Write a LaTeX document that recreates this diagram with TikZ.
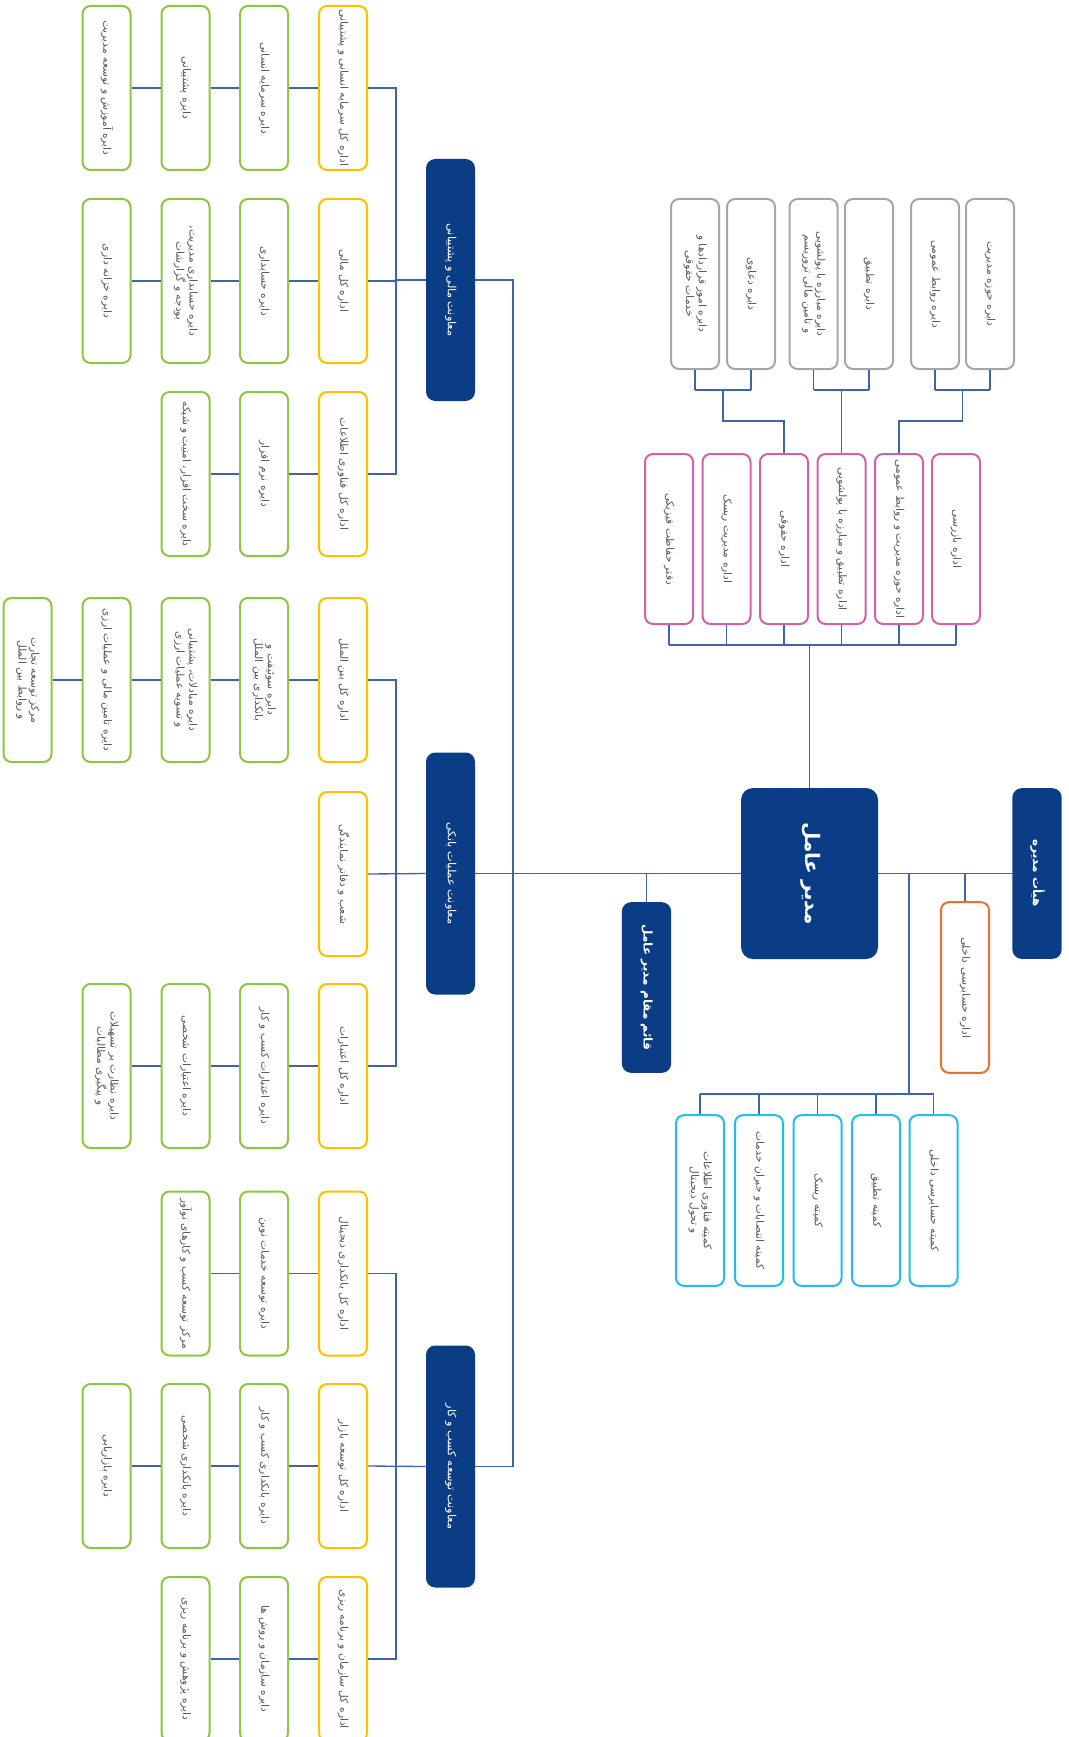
\documentclass[tikz,border=0pt]{standalone}
\usepackage{fontspec}
\usepackage{graphicx}
\newfontfamily\fa[Script=Arabic]{DejaVu Sans}
\TeXXeTstate=1
\newcommand{\rl}[1]{\beginR #1\endR}
\newcommand{\vt}[1]{\rotatebox{-90}{\renewcommand\arraystretch{0.95}\begin{tabular}{@{}c@{}}#1\end{tabular}}}
\definecolor{cyel}{HTML}{FFC000}
\definecolor{cgrn}{HTML}{8DC63F}
\definecolor{cpink}{HTML}{D063A8}
\definecolor{cgray}{HTML}{A6A6A6}
\definecolor{ccyan}{HTML}{22BDEE}
\definecolor{corg}{HTML}{ED6F2D}
\definecolor{cnavy}{HTML}{0B3D87}
\definecolor{ctxt}{HTML}{595959}
\definecolor{cline}{HTML}{3D65A8}
\tikzset{
  box/.style={draw, line width=1.5pt, rounded corners=6pt, fill=white, text=ctxt,
    font=\fa\fontsize{8}{10}\selectfont, inner sep=0pt, minimum width=36pt},
  ybox/.style={box, draw=cyel, minimum height=123pt},
  gbox/.style={box, draw=cgrn, minimum height=123pt},
  graybox/.style={box, draw=cgray, minimum height=127.5pt},
  pbox/.style={box, draw=cpink, minimum height=127.5pt},
  cbox/.style={box, draw=ccyan, minimum height=128pt},
  obox/.style={box, draw=corg, minimum height=128pt},
  vpbox/.style={fill=cnavy, draw=none, rounded corners=7pt, text=white, inner sep=0pt,
    font=\fa\fontsize{8.5}{10}\selectfont, minimum width=36.75pt, minimum height=181.5pt},
  nbox/.style={fill=cnavy, draw=none, rounded corners=7pt, text=white, inner sep=0pt,
    font=\fa\bfseries\fontsize{9}{11}\selectfont, minimum width=37pt, minimum height=128pt},
  ln/.style={draw=cline, line width=1pt},
}
\begin{document}
\begin{tikzpicture}[x=0.75pt,y=-0.75pt]
\useasboundingbox (0,0) rectangle (1068,1737);
\fill[white] (0,0) rectangle (1068,1737);

% ---------- centre ----------
\node[nbox, minimum width=102.75pt, minimum height=128.25pt, rounded corners=9pt,
  font=\fa\bfseries\fontsize{15}{17}\selectfont] (ceo) at (809.5,873.5) {\vt{\rl{مدیر عامل}}};
\node[nbox] (board) at (1037,873.5) {\vt{\rl{هیأت مدیره}}};
\node[nbox] (dep) at (646.5,987.5) {\vt{\rl{قائم مقام مدیر عامل}}};
\node[obox] (audit) at (965,987.5) {\vt{\rl{اداره حسابرسی داخلی}}};

% committees
\node[cbox] (c1) at (933.5,1200.5) {\vt{\rl{کمیته حسابرسی داخلی}}};
\node[cbox] (c2) at (876,1200.5) {\vt{\rl{کمیته تطبیق}}};
\node[cbox] (c3) at (817.5,1200.5) {\vt{\rl{کمیته ریسک}}};
\node[cbox] (c4) at (759,1200.5) {\vt{\rl{کمیته انتصابات و جبران خدمات}}};
\node[cbox] (c5) at (700,1200.5) {\vt{\rl{کمیته فناوری اطلاعات}\\\rl{و تحول دیجیتال}}};

% pink
\node[pbox] (p1) at (956,539) {\vt{\rl{اداره بازرسی}}};
\node[pbox] (p2) at (899,539) {\vt{\rl{اداره حوزه مدیریت و روابط عمومی}}};
\node[pbox] (p3) at (841.5,539) {\vt{\rl{اداره تطبیق و مبارزه با پولشویی}}};
\node[pbox] (p4) at (784,539) {\vt{\rl{اداره حقوقی}}};
\node[pbox] (p5) at (726.5,539) {\vt{\rl{اداره مدیریت ریسک}}};
\node[pbox] (p6) at (669,539) {\vt{\rl{دفتر حفاظت فیزیکی}}};

% gray
\node[graybox] (q1) at (990,284) {\vt{\rl{دایره حوزه مدیریت}}};
\node[graybox] (q2) at (935,284) {\vt{\rl{دایره روابط عمومی}}};
\node[graybox] (q3) at (869,284) {\vt{\rl{دایره تطبیق}}};
\node[graybox] (q4) at (813.5,284) {\vt{\rl{دایره مبارزه با پولشویی}\\\rl{و تامین مالی تروریسم}}};
\node[graybox] (q5) at (751,284) {\vt{\rl{دایره دعاوی}}};
\node[graybox] (q6) at (695,284) {\vt{\rl{دایره امور قراردادها و}\\\rl{خدمات حقوقی}}};

% ---------- vice presidents ----------
\node[vpbox] (vp1) at (450.5,280) {\vt{\rl{معاونت مالی و پشتیبانی}}};
\node[vpbox] (vp2) at (450.5,873.5) {\vt{\rl{معاونت عملیات بانکی}}};
\node[vpbox] (vp3) at (450.5,1466.5) {\vt{\rl{معاونت توسعه کسب و کار}}};

% row 1
\node[ybox] (a1) at (343,88) {\vt{\rl{اداره کل سرمایه انسانی و پشتیبانی}}};
\node[gbox] (a2) at (264,88) {\vt{\rl{دایره سرمایه انسانی}}};
\node[gbox] (a3) at (185.5,88) {\vt{\rl{دایره پشتیبانی}}};
\node[gbox] (a4) at (106.5,88) {\vt{\rl{دایره آموزش و توسعه مدیریت}}};
% row 2
\node[ybox] (b1) at (343,281) {\vt{\rl{اداره کل مالی}}};
\node[gbox] (b2) at (264,281) {\vt{\rl{دایره حسابداری}}};
\node[gbox] (b3) at (185.5,281) {\vt{\rl{دایره حسابداری مدیریت،}\\\rl{بودجه و گزارشات}}};
\node[gbox] (b4) at (106.5,281) {\vt{\rl{دایره خزانه داری}}};
% row 3
\node[ybox] (d1) at (343,474) {\vt{\rl{اداره کل فناوری اطلاعات}}};
\node[gbox] (d2) at (264,474) {\vt{\rl{دایره نرم افزار}}};
\node[gbox] (d3) at (185.5,474) {\vt{\rl{دایره سخت افزار، امنیت و شبکه}}};
% row 4
\node[ybox] (e1) at (343,680) {\vt{\rl{اداره کل بین الملل}}};
\node[gbox] (e2) at (264,680) {\vt{\rl{دایره سوئیفت و}\\\rl{بانکداری بین الملل}}};
\node[gbox] (e3) at (185.5,680) {\vt{\rl{دایره مبادلات، پشتیبانی}\\\rl{و تسویه عملیات ارزی}}};
\node[gbox] (e4) at (106.5,680) {\vt{\rl{دایره تامین مالی و عملیات ارزی}}};
\node[gbox] (e5) at (27.5,680) {\vt{\rl{مرکز توسعه تجارت}\\\rl{و روابط بین الملل}}};
% row 5
\node[ybox] (f1) at (343,874) {\vt{\rl{شعب و دفاتر نمایندگی}}};
% row 6
\node[ybox] (h1) at (343,1066) {\vt{\rl{اداره کل اعتبارات}}};
\node[gbox] (h2) at (264,1066) {\vt{\rl{دایره اعتبارات کسب و کار}}};
\node[gbox] (h3) at (185.5,1066) {\vt{\rl{دایره اعتبارات شخصی}}};
\node[gbox] (h4) at (106.5,1066) {\vt{\rl{دایره نظارت بر تسهیلات}\\\rl{و پیگیری مطالبات}}};
% row 7
\node[ybox] (k1) at (343,1273.5) {\vt{\rl{اداره کل بانکداری دیجیتال}}};
\node[gbox] (k2) at (264,1273.5) {\vt{\rl{دایره توسعه خدمات نوین}}};
\node[gbox] (k3) at (185.5,1273.5) {\vt{\rl{مرکز توسعه کسب و کارهای نوآور}}};
% row 8
\node[ybox] (m1) at (343,1466) {\vt{\rl{اداره کل توسعه بازار}}};
\node[gbox] (m2) at (264,1466) {\vt{\rl{دایره بانکداری کسب و کار}}};
\node[gbox] (m3) at (185.5,1466) {\vt{\rl{دایره بانکداری شخصی}}};
\node[gbox] (m4) at (106.5,1466) {\vt{\rl{دایره بازاریابی}}};
% row 9
\node[ybox] (n1) at (343,1659) {\vt{\rl{اداره کل سازمان و برنامه ریزی}}};
\node[gbox] (n2) at (264,1659) {\vt{\rl{دایره سازمان و روش ها}}};
\node[gbox] (n3) at (185.5,1659) {\vt{\rl{دایره پژوهش و برنامه ریزی}}};

% ---------- connectors ----------
\coordinate (k1x) at (396,280);
\coordinate (k2x) at (396,873.5);
\coordinate (k3x) at (396,1466.5);
\coordinate (trunk) at (513,873.5);

% rows
\draw[ln] (a4.east) -- (a3.west) (a3.east) -- (a2.west) (a2.east) -- (a1.west);
\draw[ln] (b4.east) -- (b3.west) (b3.east) -- (b2.west) (b2.east) -- (b1.west);
\draw[ln] (d3.east) -- (d2.west) (d2.east) -- (d1.west);
\draw[ln] (e5.east) -- (e4.west) (e4.east) -- (e3.west) (e3.east) -- (e2.west) (e2.east) -- (e1.west);
\draw[ln] (h4.east) -- (h3.west) (h3.east) -- (h2.west) (h2.east) -- (h1.west);
\draw[ln] (k3.east) -- (k2.west) (k2.east) -- (k1.west);
\draw[ln] (m4.east) -- (m3.west) (m3.east) -- (m2.west) (m2.east) -- (m1.west);
\draw[ln] (n3.east) -- (n2.west) (n2.east) -- (n1.west);

% brackets
\draw[ln] (a1.east) -| (k1x) |- (d1.east);
\draw[ln] (b1.east) -- (b1.east -| k1x);
\draw[ln] (k1x) -- (vp1.west);
\draw[ln] (e1.east) -| (k2x) |- (h1.east);
\draw[ln] (f1.east) -- (vp2.west);
\draw[ln] (k1.east) -| (k3x) |- (n1.east);
\draw[ln] (m1.east) -- (vp3.west);

% trunk
\draw[ln] (vp1.east) -| (trunk) |- (vp3.east);
\draw[ln] (vp2.east) -- (ceo.west);
\draw[ln] (ceo.east) -- (board.west);
\draw[ln] (dep.north) -- (dep.north |- ceo.west);
\draw[ln] (audit.north) -- (audit.north |- ceo.east);

% committees
\coordinate (cb) at (909,1094);
\draw[ln] (cb |- ceo.east) -- (cb);
\draw[ln] (c5.north |- cb) -- (c1.north |- cb);
\foreach \c in {c1,c2,c3,c4,c5} \draw[ln] (\c.north) -- (\c.north |- cb);

% pink bus
\coordinate (pb) at (809.5,645);
\draw[ln] (ceo.north) -- (pb);
\draw[ln] (p6.south |- pb) -- (p1.south |- pb);
\foreach \p in {p1,p2,p3,p4,p5,p6} \draw[ln] (\p.south) -- (\p.south |- pb);

% gray groups
\coordinate (gb) at (0,390);
\coordinate (gm) at (0,421);
\foreach \q in {q1,q2,q3,q4,q5,q6} \draw[ln] (\q.south) -- (\q.south |- gb);
\draw[ln] (q6.south |- gb) -- (q5.south |- gb);
\draw[ln] (q4.south |- gb) -- (q3.south |- gb);
\draw[ln] (q2.south |- gb) -- (q1.south |- gb);
\coordinate (g1) at (723,390);
\coordinate (g3) at (962.5,390);
\draw[ln] (g1) -- (g1 |- gm) -| (p4.north);
\draw[ln] (p3.north) -- (p3.north |- gb);
\draw[ln] (g3) -- (g3 |- gm) -| (p2.north);
\end{tikzpicture}
\end{document}
